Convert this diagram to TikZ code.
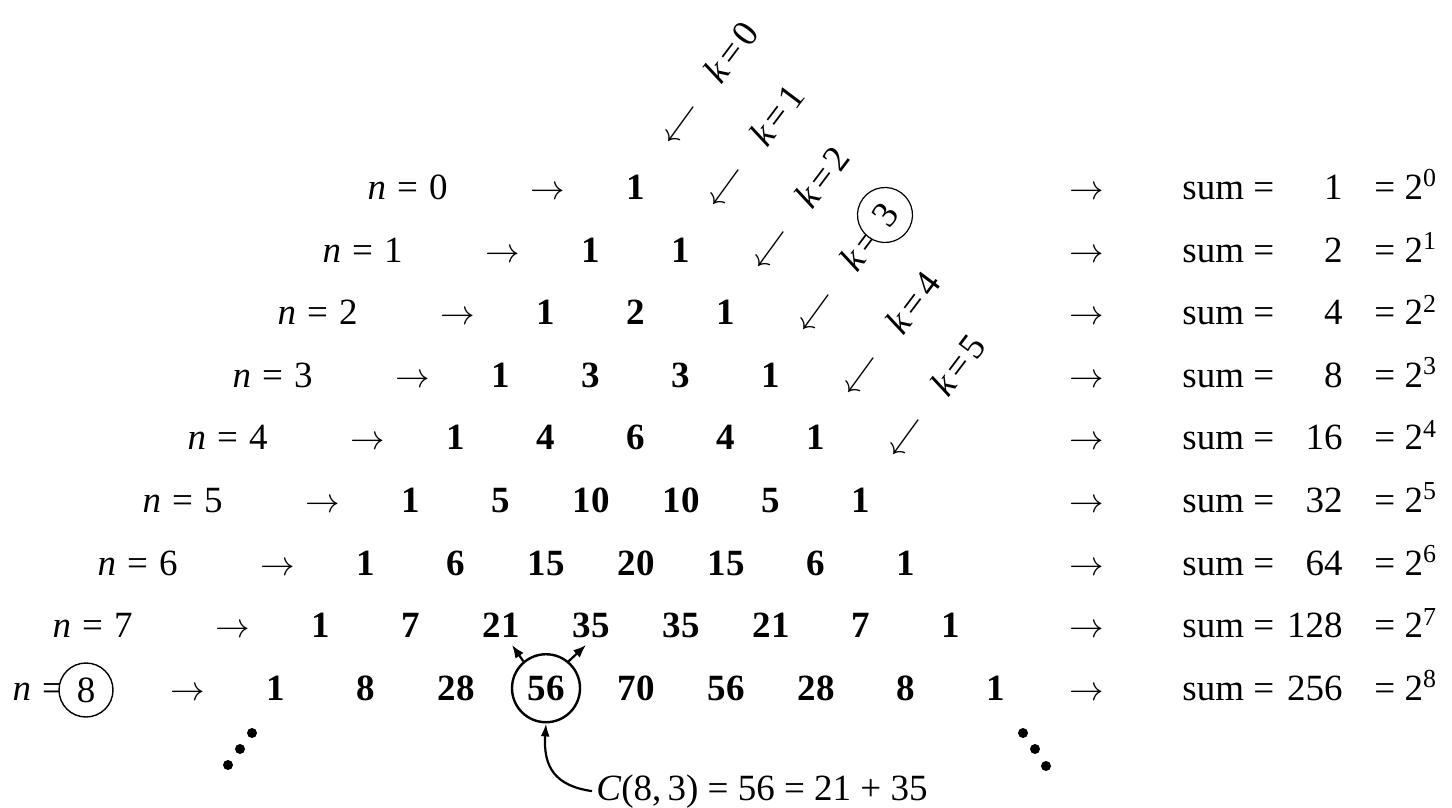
\documentclass[tikz,border=0pt]{standalone}
\usepackage{fontspec}
\setmainfont{Liberation Serif}
\usetikzlibrary{arrows.meta,calc}
\newcommand\nlab[1]{\textit{n}\hspace{0.3em}=\hspace{0.3em}#1}
\newcommand\klab[1]{\textit{k}\hspace{0.12em}=\hspace{0.12em}#1}
\begin{document}
\begin{tikzpicture}[x=0.5pt,y=-0.5pt,
  every node/.style={font=\fontsize{18.5pt}{22pt}\selectfont, inner sep=2pt},
  num/.style={font=\fontsize{18.5pt}{22pt}\selectfont\bfseries, anchor=base},
  txt/.style={anchor=base},
  nl/.style={anchor=base east},
  klabel/.style={rotate=53, inner sep=0pt},
  kar/.style={rotate=9, inner sep=0pt, font=\fontsize{16.5pt}{20pt}\selectfont},
  ring/.style={draw, circle, fill=white, inner sep=0pt},
  arr/.style={-{Latex[length=6.5pt,width=4.5pt]}, line width=1.1pt},
  dot/.style={fill=black, circle, inner sep=0pt, minimum size=5pt}]
\useasboundingbox (0,0) rectangle (1452,808);

% Pascal triangle rows
\foreach \r/\vals in {0/{1},1/{1,1},2/{1,2,1},3/{1,3,3,1},4/{1,4,6,4,1},
  5/{1,5,10,10,5,1},6/{1,6,15,20,15,6,1},7/{1,7,21,35,35,21,7,1},
  8/{1,8,28,56,70,56,28,8,1}}{
  \foreach \v [count=\k from 0] in \vals {
    \node[num] (p\r-\k) at ({636+(\k-\r/2)*90},{199.5+62.6*\r}) {\v};
  }
  \node[txt] (la\r) at ({548-45*\r},{199.5+62.6*\r}) {$\rightarrow$};
  \node[txt] (ra\r) at (1087,{199.5+62.6*\r}) {$\rightarrow$};
  \node[anchor=base west] (sm\r) at (1178,{199.5+62.6*\r}) {sum =};
  \node[anchor=base west] (pw\r) at (1370,{199.5+62.6*\r}) {= 2\textsuperscript{\r}};
}
% n labels
\foreach \r in {0,...,7}{
  \node[nl] (nl\r) at ({452-45*\r},{199.5+62.6*\r}) {\nlab{\r}};
}
\node[nl] (nl8) at (97,{199.5+62.6*8}) {\nlab{\phantom{8}}};
\node[ring, minimum size=27pt, line width=0.7pt] (c8) at (86,690) {8};

% sums
\foreach \r/\s in {0/1,1/2,2/4,3/8,4/16,5/32,6/64,7/128,8/256}{
  \node[anchor=base east] (sv\r) at (1347,{199.5+62.6*\r}) {\s};
}

% k labels and arrows
\foreach \k in {0,1,2,4,5}{
  \node[klabel] (k\k) at ({731+45.4*\k},{52+62.6*\k}) {\klab{\k}};
}
\node[klabel] (k3) at ({731+45.4*3},{52+62.6*3}) {\klab{\phantom{3}}};
\node[ring, minimum size=27.5pt, line width=0.6pt, rotate=53] (c3) at (885,215) {3};
\foreach \k in {0,...,5}{
  \node[kar] (sw\k) at ({681.5+45*\k},{124.4+62.6*\k}) {$\swarrow$};
}

% circle around 56 and arrows
\node[draw, circle, minimum size=34pt, line width=1.2pt] (c56) at (p8-3.center) {};
\coordinate (t21) at (512,645);
\coordinate (t35) at (586,645);
\draw[arr, -{Latex[length=6.5pt,width=5pt]}] (c56.130) -- (t21);
\draw[arr, -{Latex[length=6.5pt,width=5pt]}] (c56.50) -- (t35);

% label
\node[anchor=base west] (clbl) at (592,800) {\textit{C}(8,\,3) = 56 = 21 + 35};
\draw[arr] (clbl.west) .. controls (556,786) and (543,768) .. (c56.south);

% dots
\node[dot] (dl1) at (228,765) {};
\node[dot] (dl2) at (240,749) {};
\node[dot] (dl3) at (252,733) {};
\node[dot] (dr1) at (1023,733) {};
\node[dot] (dr2) at (1035,749) {};
\node[dot] (dr3) at (1046,766) {};
\end{tikzpicture}
\end{document}
